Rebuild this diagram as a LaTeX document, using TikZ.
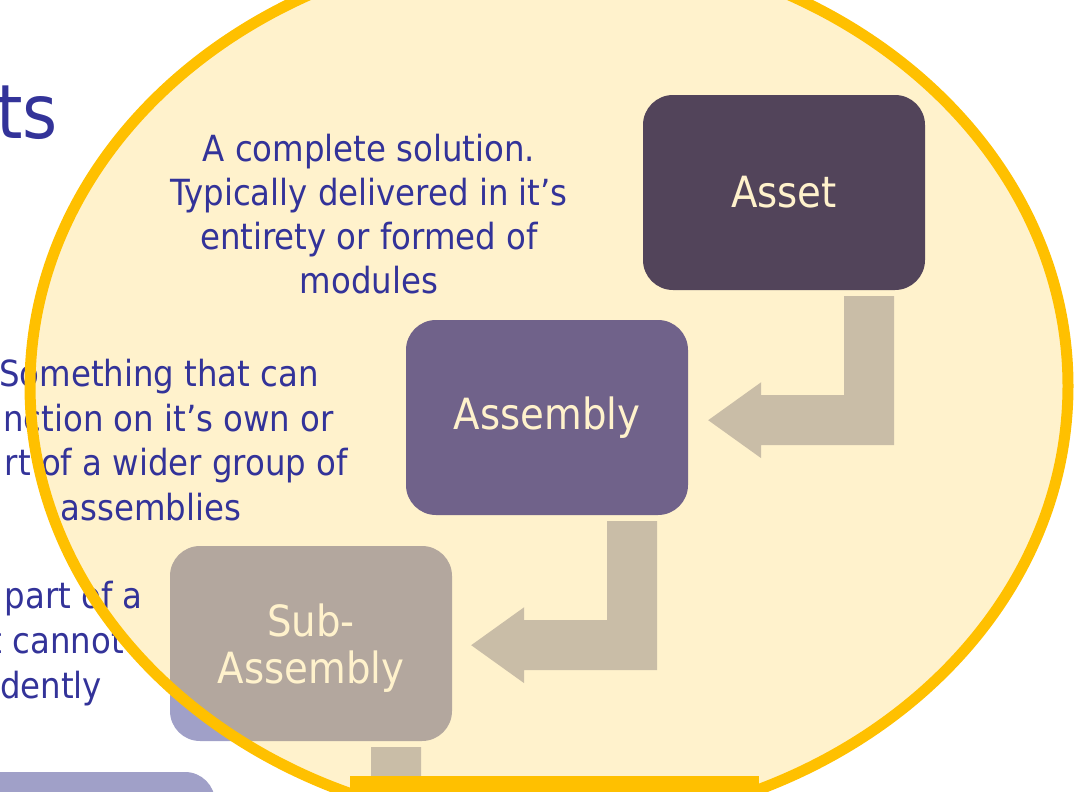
\documentclass[tikz,border=0pt]{standalone}
\usepackage{fontspec}
\setmainfont{DejaVu Sans Condensed}
\definecolor{ellfill}{RGB}{255,242,204}
\definecolor{ellline}{RGB}{255,192,0}
\definecolor{assetc}{RGB}{82,68,90}
\definecolor{assemc}{RGB}{112,98,138}
\definecolor{subc}{RGB}{179,167,158}
\definecolor{arrc}{RGB}{201,189,167}
\definecolor{lavc}{RGB}{160,160,200}
\definecolor{bluetxt}{RGB}{51,51,153}
\definecolor{creamtxt}{RGB}{255,242,204}
\tikzset{
  boxnode/.style={rectangle, rounded corners=30pt, minimum width=282pt, minimum height=195pt, inner sep=0pt, text=creamtxt, align=center, font=\fontsize{43}{47}\selectfont},
  bodytxt/.style={text=bluetxt, inner sep=0pt, font=\fontsize{36}{44}\selectfont},
  bentarrow/.pic={
    \fill[arrc] (-50,0) -- (0,0) -- (0,149) -- (-133,149) -- (-133,162) -- (-186,124) -- (-133,86) -- (-133,99) -- (-50,99) -- cycle;
  }
}
\begin{document}
\begin{tikzpicture}[x=1pt,y=-1pt]
\useasboundingbox (0,0) rectangle (1076,792);
% background slide elements
\node[text=bluetxt, inner sep=0pt, anchor=base east, font=\fontsize{75}{90}\selectfont] (title) at (58,138) {ts};
\fill[lavc, rounded corners=30pt] (-60,772) rectangle (215,900);
\fill[lavc, rounded corners=30pt] (170,546) rectangle (452,741);
% ellipse fill
\fill[ellfill] (549,386) ellipse [x radius=519pt, y radius=441pt];
\begin{scope}
  \clip (549,386) ellipse [x radius=519pt, y radius=441pt];
  \node[boxnode, fill=assetc] (asset) at (784,192.5) {Asset};
  \node[boxnode, fill=assemc] (assembly) at (547,417.5) {Assembly};
  \node[boxnode, fill=subc, text depth=0pt] (sub) at (311,643.5) {Sub-\\Assembly};
  \pic at ([shift={(-31,6)}]asset.south east) {bentarrow};
  \pic at ([shift={(-31,6)}]assembly.south east) {bentarrow};
  \pic at ([shift={(-31,6)}]sub.south east) {bentarrow};
\end{scope}
% texts
\node[bodytxt, anchor=base] (a1) at (369,161) {A complete solution.};
\node[bodytxt, anchor=base] (a2) at (369,205) {Typically delivered in it’s};
\node[bodytxt, anchor=base] (a3) at (369,249) {entirety or formed of};
\node[bodytxt, anchor=base] (a4) at (369,293) {modules};
\node[bodytxt, anchor=base west] (b1) at (-1,386) {Something that can};
\node[bodytxt, anchor=base east] (b2) at (334,431) {nction on it’s own or};
\node[bodytxt, anchor=base east] (b3) at (348,475) {rt of a wider group of};
\node[bodytxt, anchor=base] (b4) at (151,520) {assemblies};
\node[bodytxt, anchor=base east] (c1) at (143,608) {part of a};
\node[bodytxt, anchor=base east] (c2) at (124,653) {t cannot};
\node[bodytxt, anchor=base west] (c3) at (0,698) {dently};
% ellipse outline
\draw[ellline, line width=11pt] (549,386) ellipse [x radius=519pt, y radius=441pt];
\fill[ellline] (350,776) rectangle (759,800);
\end{tikzpicture}
\end{document}
